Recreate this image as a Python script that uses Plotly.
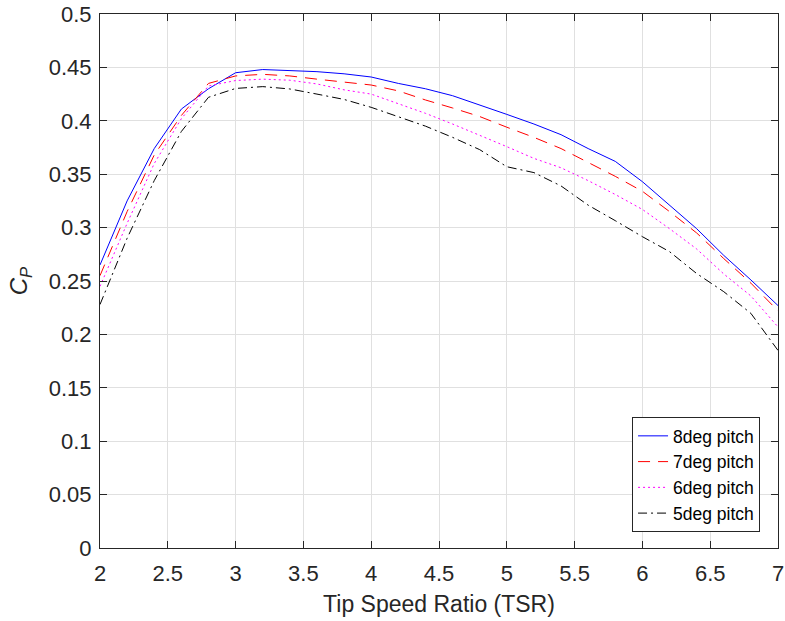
import plotly.graph_objects as go

tsr = [2.0, 2.2, 2.4, 2.6, 2.8, 3.0, 3.2, 3.4, 3.6, 3.8, 4.0, 4.2, 4.4,
       4.6, 4.8, 5.0, 5.2, 5.4, 5.6, 5.8, 6.0, 6.2, 6.4, 6.6, 6.8, 7.0]

cp_8deg = [0.265, 0.325, 0.374, 0.411, 0.430, 0.445, 0.448, 0.447, 0.446, 0.444,
           0.441, 0.435, 0.430, 0.4235, 0.415, 0.406, 0.397, 0.387, 0.374, 0.362,
           0.343, 0.321, 0.299, 0.274, 0.251, 0.227]
cp_7deg = [0.255, 0.315, 0.368, 0.405, 0.435, 0.442, 0.4435, 0.442, 0.439, 0.436,
           0.4335, 0.428, 0.4195, 0.412, 0.404, 0.394, 0.3845, 0.374, 0.361, 0.348,
           0.334, 0.315, 0.295, 0.271, 0.248, 0.222]
cp_6deg = [0.245, 0.304, 0.360, 0.402, 0.4326, 0.4377, 0.439, 0.438, 0.4345, 0.429,
           0.425, 0.4163, 0.407, 0.397, 0.3867, 0.3758, 0.3648, 0.356, 0.344, 0.331,
           0.317, 0.299, 0.280, 0.2566, 0.236, 0.207]
cp_5deg = [0.228, 0.290, 0.344, 0.390, 0.422, 0.4303, 0.432, 0.4298, 0.425, 0.420,
           0.4126, 0.404, 0.395, 0.3845, 0.373, 0.357, 0.3515, 0.339, 0.321, 0.3065,
           0.2915, 0.2775, 0.257, 0.240, 0.2197, 0.185]

series_names = ["8deg pitch", "7deg pitch", "6deg pitch", "5deg pitch"]

x_tick_vals = [2, 2.5, 3, 3.5, 4, 4.5, 5, 5.5, 6, 6.5, 7]
x_tick_text = ["2", "2.5", "3", "3.5", "4", "4.5", "5", "5.5", "6", "6.5", "7"]
y_tick_vals = [0, 0.05, 0.1, 0.15, 0.2, 0.25, 0.3, 0.35, 0.4, 0.45, 0.5]
y_tick_text = ["0", "0.05", "0.1", "0.15", "0.2", "0.25", "0.3", "0.35", "0.4", "0.45", "0.5"]

styles = [
    dict(color="#0000ff", dash="solid"),
    dict(color="#ff0000", dash="12px,8px"),
    dict(color="#ff00ff", dash="2px,3px"),
    dict(color="#000000", dash="9px,4px,2px,4px"),
]

fig = go.Figure()
for name, ys, st in zip(series_names, [cp_8deg, cp_7deg, cp_6deg, cp_5deg], styles):
    fig.add_trace(go.Scatter(
        x=tsr, y=ys, mode="lines", name=name,
        line=dict(color=st["color"], dash=st["dash"], width=1),
    ))

axis_color = "#262626"
font_family = "Liberation Sans, Arial, Helvetica, sans-serif"

fig.update_layout(
    width=785, height=621,
    margin=dict(l=100, r=7, t=14, b=73, autoexpand=False),
    paper_bgcolor="white", plot_bgcolor="white",
    font=dict(family=font_family, color=axis_color, size=22),
    showlegend=True,
    legend=dict(
        x=0.9735, y=0.03, xanchor="right", yanchor="bottom",
        bgcolor="white", bordercolor=axis_color, borderwidth=1,
        font=dict(size=17.5, color="#000000", family=font_family),
    ),
    xaxis=dict(
        range=[2, 7], tickvals=x_tick_vals, ticktext=x_tick_text,
        showgrid=True, gridcolor="#e0e0e0", gridwidth=1,
        showline=True, linecolor=axis_color, linewidth=1, mirror="ticks",
        ticks="inside", ticklen=7, tickcolor=axis_color,
        zeroline=False, automargin=False, ticklabeloverflow="allow",
        ticklabelstandoff=6,
        tickfont=dict(size=22, color=axis_color),
        title=dict(text="Tip Speed Ratio (TSR)", font=dict(size=23, color=axis_color), standoff=10),
    ),
    yaxis=dict(
        range=[0, 0.5], tickvals=y_tick_vals, ticktext=y_tick_text,
        showgrid=True, gridcolor="#e0e0e0", gridwidth=1,
        showline=True, linecolor=axis_color, linewidth=1, mirror="ticks",
        ticks="inside", ticklen=7, tickcolor=axis_color,
        zeroline=False, automargin=False, ticklabeloverflow="allow",
        ticklabelstandoff=3,
        tickfont=dict(size=22, color=axis_color),
        title=dict(text="<i>C</i><sub><i>P</i></sub>", font=dict(size=24, color=axis_color), standoff=14),
    ),
)

# remove the browser's default 8px body margin so the figure fills the window
fig.write_html("out.html", config={"displayModeBar": False},
               post_script="document.body.style.margin='0';")
